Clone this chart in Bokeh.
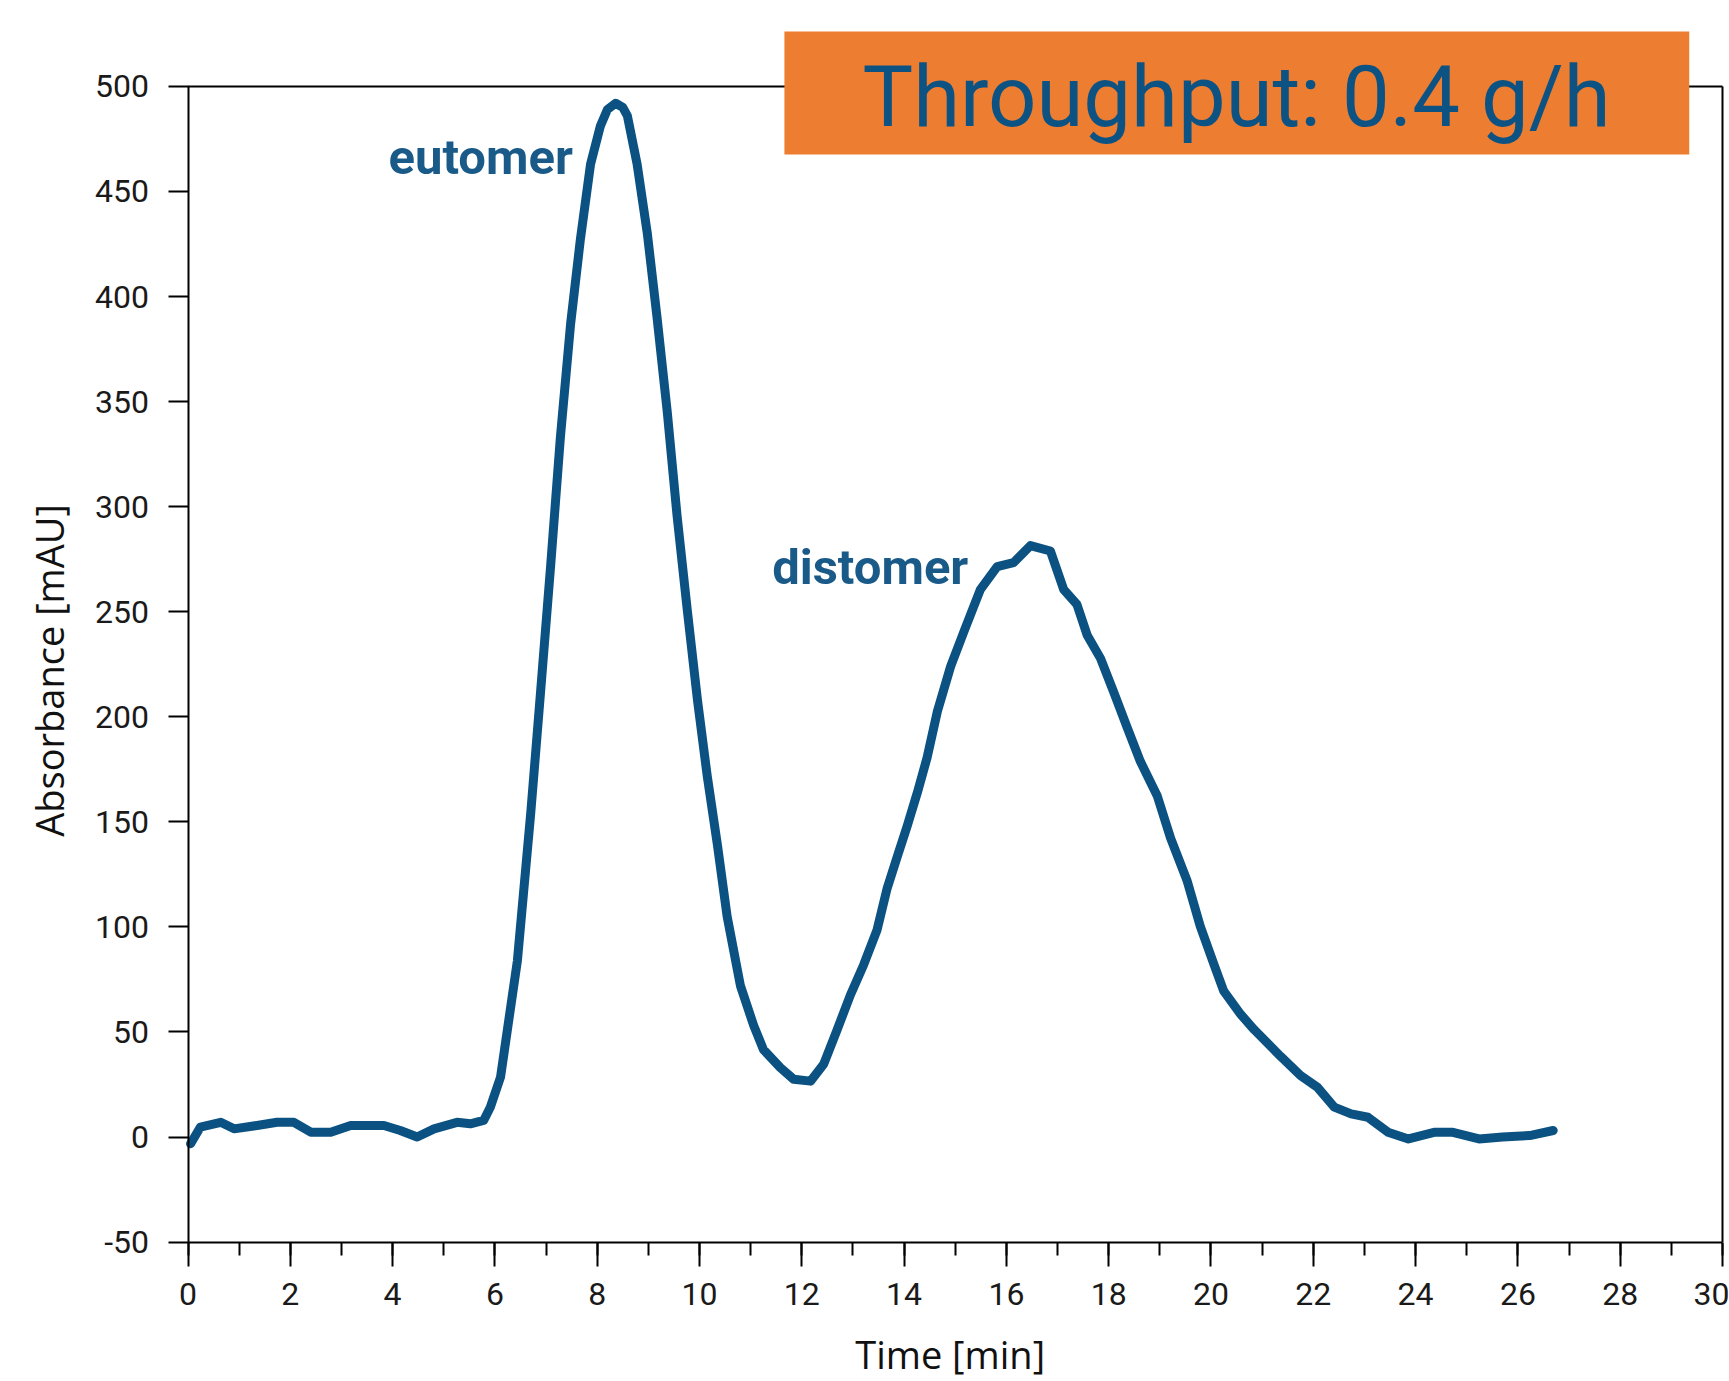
from math import pi
from bokeh.plotting import figure
from bokeh.models import Range1d, FixedTicker, Label
from bokeh.embed import file_html
from bokeh.resources import INLINE

# ---- data ----
time_min = [0.05, 0.24, 0.64, 0.9, 1.35, 1.74, 2.07, 2.4, 2.79, 3.18, 3.83, 4.15, 4.48,
            4.81, 5.26, 5.52, 5.78, 5.91, 6.11, 6.44, 6.70, 6.89, 7.09, 7.28, 7.48, 7.67,
            7.87, 8.06, 8.2, 8.36, 8.5, 8.59, 8.78, 8.98, 9.17, 9.37, 9.56, 9.76, 9.96,
            10.15, 10.35, 10.54, 10.80, 11.06, 11.25, 11.58, 11.84, 12.17, 12.43, 12.69,
            12.95, 13.21, 13.47, 13.67, 13.86, 14.06, 14.26, 14.45, 14.65, 14.91, 15.17,
            15.49, 15.82, 16.14, 16.47, 16.86, 17.12, 17.38, 17.58, 17.84, 18.1, 18.36,
            18.62, 18.95, 19.21, 19.53, 19.79, 20.06, 20.25, 20.58, 20.84, 21.36, 21.75,
            22.08, 22.41, 22.74, 23.07, 23.46, 23.86, 24.38, 24.71, 25.24, 25.7, 26.23,
            26.69]
absorbance = [-3.2, 4.7, 7.0, 3.9, 5.5, 7.0, 7.0, 2.3, 2.3, 5.5, 5.5, 3.1, 0.0,
              3.9, 7.0, 6.3, 7.9, 14.2, 28.5, 84, 154, 211, 272, 333, 387, 427,
              463, 481, 489, 492, 490, 486, 463, 430, 390, 345, 296, 251, 208,
              172, 139, 105, 72, 53, 41.6, 33, 27.5, 26.6, 34.8, 51,
              67.6, 82, 98.5, 118.5, 133, 148, 164, 180.6, 202.5, 224, 240.6,
              260.5, 271.5, 273.4, 281.5, 278.9, 260.6, 253.4, 238.8, 227.8, 211.6, 195,
              178.7, 162.3, 142.3, 122.2, 100.3, 82, 69.4, 58.4, 51.2, 38.4, 29.3,
              23.7, 14.2, 11.0, 9.4, 2.3, -0.9, 2.3, 2.3, -0.9, 0.0, 0.7,
              3.1]
x_ticks = list(range(0, 31, 2))
x_minor_ticks = list(range(0, 31, 1))
y_ticks = list(range(-50, 501, 50))
x_limits = (0, 30)
y_limits = (-50, 500)
peak_names = ["eutomer", "distomer"]
title_text = "Throughput: 0.4 g/h"
x_title = "Time [min]"
y_title = "Absorbance [mAU]"

LINE = "#0b5282"
LABEL_BLUE = "#1a5a89"
ORANGE = "#ED7D31"

# The frame fills the whole canvas; the axes are drawn at fixed data
# locations so that titles and the banner can sit anywhere without clipping.
p = figure(width=1729, height=1381, output_backend="svg", toolbar_location=None,
           x_range=Range1d(-3.666, 30.137), y_range=Range1d(-116.35, 540.9),
           min_border_left=0, min_border_right=0, min_border_top=0,
           min_border_bottom=0)
p.background_fill_color = "white"
p.border_fill_color = "white"
p.xgrid.visible = False
p.ygrid.visible = False
p.outline_line_color = None

for ax in (p.xaxis[0], p.yaxis[0]):
    ax.axis_line_color = "black"
    ax.axis_line_width = 2
    ax.major_tick_line_color = "black"
    ax.major_tick_line_width = 2
    ax.major_tick_in = 0
    ax.major_label_text_font = "Roboto"
    ax.major_label_text_font_size = "32px"
    ax.major_label_text_color = "#1a1a1a"

p.xaxis.fixed_location = y_limits[0]
p.xaxis.ticker = FixedTicker(ticks=x_ticks, minor_ticks=x_minor_ticks)
p.xaxis.bounds = x_limits
p.xaxis.major_tick_out = 24
p.xaxis.minor_tick_out = 13
p.xaxis.minor_tick_in = 0
p.xaxis.minor_tick_line_color = "black"
p.xaxis.minor_tick_line_width = 2
p.xaxis.major_label_standoff = 17

p.yaxis.fixed_location = x_limits[0]
p.yaxis.ticker = FixedTicker(ticks=y_ticks, minor_ticks=[])
p.yaxis.bounds = y_limits
p.yaxis.major_tick_out = 20
p.yaxis.minor_tick_line_color = None
p.yaxis.major_label_standoff = 19
p.yaxis.major_label_overrides = {-50: "-50"}

# top and right sides of the axes box
p.segment(x0=[x_limits[0], x_limits[1]], y0=[y_limits[1], y_limits[0]],
          x1=[x_limits[1], x_limits[1]], y1=[y_limits[1], y_limits[1]],
          line_color="black", line_width=2)

p.line(time_min, absorbance, line_width=9, line_color=LINE,
       line_join="round", line_cap="round")

# throughput banner
p.quad(left=[11.66], right=[29.35], top=[526.2], bottom=[467.6],
       fill_color=ORANGE, line_color=None)
p.add_layout(Label(x=20.5, y=494.8, text=title_text, text_align="center",
                   text_baseline="alphabetic", text_font="Roboto",
                   text_font_size="85px", text_color="#0c5384"))

# peak names
p.add_layout(Label(x=3.92, y=466.2, text=peak_names[0], text_align="left",
                   text_baseline="alphabetic", text_font="Roboto",
                   text_font_style="bold", text_font_size="49px",
                   text_color=LABEL_BLUE))
p.add_layout(Label(x=11.42, y=271.2, text=peak_names[1], text_align="left",
                   text_baseline="alphabetic", text_font="Roboto",
                   text_font_style="bold", text_font_size="49px",
                   text_color=LABEL_BLUE))

# axis titles
p.add_layout(Label(x=14.9, y=-103.2, text=x_title, text_align="center",
                   text_baseline="alphabetic", text_font="Open Sans",
                   text_font_size="38px", text_color="#111111"))
p.add_layout(Label(x=-2.72, y=222.1, text=y_title, angle=pi / 2,
                   text_align="center", text_baseline="alphabetic",
                   text_font="Open Sans", text_font_size="38px",
                   text_color="#111111"))

open("out.html", "w").write(file_html(p, INLINE))
